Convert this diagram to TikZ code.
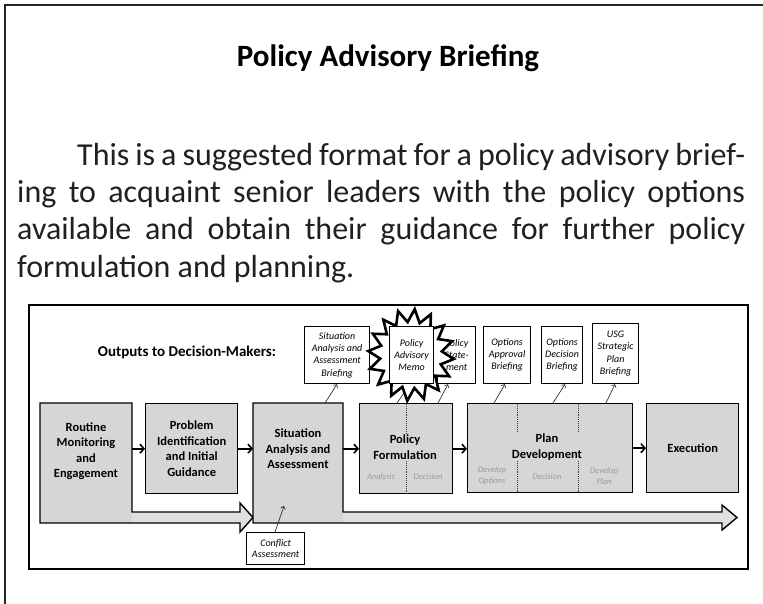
\documentclass[tikz,border=0pt]{standalone}
\usepackage{fontspec}
\setmainfont{Carlito}
\usetikzlibrary{arrows.meta,calc}
\definecolor{boxgray}{HTML}{D6D6D6}
\definecolor{arrgray}{HTML}{E0E0E0}
\definecolor{subgray}{HTML}{9A9A9A}
\definecolor{ink}{HTML}{231F20}
\begin{document}
\begin{tikzpicture}[x=1pt,y=-1pt,
  ghost/.style={rectangle,draw=none,inner sep=0pt,anchor=north west},
  mbox/.style={rectangle,draw=black,line width=1.4pt,fill=boxgray,inner sep=0pt,anchor=north west,align=center,font=\fontsize{12.5}{15.5}\selectfont\bfseries},
  mtext/.style={align=center,inner sep=1pt,font=\fontsize{12.5}{15.5}\selectfont\bfseries},
  sublbl/.style={align=center,inner sep=0pt,text=subgray,font=\fontsize{8.5}{11}\selectfont\itshape},
  bbox/.style={rectangle,draw=black,line width=1.2pt,fill=white,inner sep=0pt,anchor=north west,align=center,font=\fontsize{10}{12.3}\selectfont\itshape},
  flow/.style={line width=1.6pt,-{Straight Barb[length=4pt,width=9pt]}},
  link/.style={line width=0.7pt,draw=black!80,-{Straight Barb[length=2.5pt,width=5pt]}},
  divider/.style={line width=0.9pt,densely dotted,draw=black!75},
  body/.style={inner sep=0pt,text=ink,font=\fontsize{32}{37}\selectfont}]
\useasboundingbox (0,0) rectangle (763,604);
% outer page frame
\draw[line width=1.5pt,draw=black!85] (5,604) -- (5,5) -- (763,5);
% title and paragraph
\node[inner sep=0pt,font=\fontsize{31}{35}\selectfont\bfseries] (title) at (388,58) {Policy Advisory Briefing};
\node[body,anchor=base west] (l1) at (77,166) {\makebox[668pt][s]{\spaceskip=0.17em plus 0.3em minus 0.05em\relax This is a suggested format for a policy advisory brief-}};
\node[body,anchor=base west] (l2) at (17,203) {\makebox[728pt][s]{ing to acquaint senior leaders with the policy options}};
\node[body,anchor=base west] (l3) at (17,240) {\makebox[728pt][s]{available and obtain their guidance for further policy}};
\node[body,anchor=base west] (l4) at (17,277) {formulation and planning.};
% inner figure frame
\draw[line width=1.2pt,fill=white] (29,305) rectangle (748,569);
\node[inner sep=0pt,font=\fontsize{15}{17}\selectfont\bfseries] (outputs) at (187,352) {Outputs to Decision-Makers:};
% big arrows (boxes merging into arrows)
\fill[arrgray] (40,403) -- (132,403) -- (132,512) -- (240,512) -- (240,503) -- (253,517.5) -- (240,532) -- (240,523) -- (40,523) -- cycle;
\fill[boxgray] (40,403) rectangle (132,523);
\draw[line width=1.4pt,line join=miter] (40,403) -- (132,403) -- (132,512) -- (240,512) -- (240,503) -- (253,517.5) -- (240,532) -- (240,523) -- (40,523) -- cycle;
\fill[arrgray] (253,403) -- (343,403) -- (343,512) -- (722,512) -- (722,505) -- (737,517.5) -- (722,530) -- (722,523) -- (253,523) -- cycle;
\fill[boxgray] (253,403) rectangle (343,523);
\draw[line width=1.4pt,line join=miter] (253,403) -- (343,403) -- (343,512) -- (722,512) -- (722,505) -- (737,517.5) -- (722,530) -- (722,523) -- (253,523) -- cycle;
\node[ghost,minimum width=92pt,minimum height=120pt] (routine) at (40,403) {};
\node[ghost,minimum width=90pt,minimum height=120pt] (sit) at (253,403) {};
\node[mtext] (routinet) at (86,451) {Routine\\Monitoring\\and\\Engagement};
\node[mtext] (sitt) at (298,449) {Situation\\Analysis and\\Assessment};
% other process boxes
\node[mbox,minimum width=92pt,minimum height=90pt] (prob) at (145,403) {Problem\\Identification\\and Initial\\Guidance};
\node[mbox,minimum width=93pt,minimum height=90pt] (pol) at (359,403) {};
\node[mbox,minimum width=165pt,minimum height=89pt] (plan) at (467,403) {};
\node[mbox,minimum width=92pt,minimum height=89pt] (exec) at (646,403) {Execution};
% dividers
\draw[divider] ($(pol.north west)+(47,1)$) -- ($(pol.south west)+(47,-1)$);
\draw[divider] ($(plan.north west)+(50,1)$) -- ($(plan.south west)+(50,-1)$);
\draw[divider] ($(plan.north west)+(111,1)$) -- ($(plan.south west)+(111,-1)$);
\node[mtext,fill=boxgray] (polt) at (405,447) {Policy\\Formulation};
\node[mtext,fill=boxgray] (plant) at (547,447) {Plan\\Development};
\node[sublbl] (sa1) at (381,477) {Analysis};
\node[sublbl] (sa2) at (428,477) {Decision};
\node[sublbl] (sp1) at (492,476) {Develop\\Options};
\node[sublbl] (sp2) at (547,477) {Decision};
\node[sublbl] (sp3) at (604,476) {Develop\\Plan};
% flow arrows
\draw[flow] (routine.east |- prob.west) -- (prob.west);
\draw[flow] (prob.east) -- (sit.west |- prob.east);
\draw[flow] (sit.east |- pol.west) -- (pol.west);
\draw[flow] (pol.east) -- (plan.west |- pol.east);
\draw[flow] (plan.east) -- (exec.west |- plan.east);
% output briefings
\node[bbox,minimum width=65pt,minimum height=57pt] (sitb) at (304,326) {Situation\\Analysis and\\Assessment\\Briefing};
\node[bbox,minimum width=38pt,minimum height=57pt] (stmt) at (437,326) {Policy\\State-\\ment};
\node[bbox,minimum width=47pt,minimum height=57pt] (optapp) at (483,326) {Options\\Approval\\Briefing};
\node[bbox,minimum width=41pt,minimum height=57pt] (optdec) at (541,326) {Options\\Decision\\Briefing};
\node[bbox,minimum width=46pt,minimum height=60pt] (usg) at (592,323) {USG\\Strategic\\Plan\\Briefing};
\node[coordinate] (memoanchor) at (411,383) {};
% links
\draw[link] ($(sit.north west)+(72,0)$) -- ($(sitb.south west)+(33,0)$);
\draw[link] ($(pol.north west)+(38,0)$) -- (memoanchor);
\draw[link] ($(pol.north west)+(79,0)$) -- ($(stmt.south west)+(11,0)$);
\draw[link] ($(plan.north west)+(27,0)$) -- ($(optapp.south west)+(22,0)$);
\draw[link] ($(plan.north west)+(86,0)$) -- ($(optdec.south west)+(24,0)$);
\draw[link] ($(plan.north west)+(139,0)$) -- ($(usg.south west)+(23,0)$);
% starburst around memo
\draw[line width=2.6pt,fill=white,line join=miter]
  plot[samples at={0,...,31}] ({411+cos(\x*11.25+5)*(0.72+0.28*mod(\x+1,2))*43},{355+sin(\x*11.25+5)*(0.72+0.28*mod(\x+1,2))*46}) -- cycle;
\node[bbox,minimum width=44pt,minimum height=57pt] (memo) at (389,326) {Policy\\Advisory\\Memo};
% conflict assessment
\node[bbox,minimum width=58pt,minimum height=32pt,font=\fontsize{10}{11}\selectfont\itshape] (conf) at (246,532) {Conflict\\Assessment};
\draw[link] ($(conf.north west)+(29,0)$) -- ($(sit.north west)+(31,103)$);
\end{tikzpicture}
\end{document}
